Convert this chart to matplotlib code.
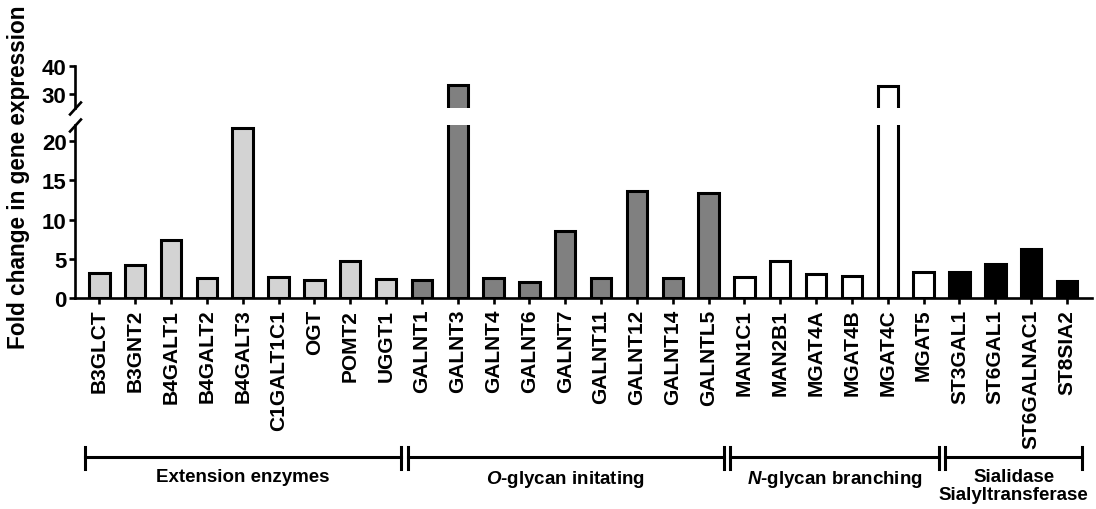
import numpy as np
import matplotlib.pyplot as plt
from matplotlib.transforms import blended_transform_factory

plt.rcParams['font.family'] = ['Liberation Sans', 'DejaVu Sans']
plt.rcParams['font.weight'] = 'bold'
plt.rcParams['mathtext.fontset'] = 'custom'
plt.rcParams['mathtext.it'] = 'Liberation Sans:italic:bold'
plt.rcParams['mathtext.rm'] = 'Liberation Sans:bold'

# fold change per gene, one list per enzyme group
ext_genes = ['B3GLCT', 'B3GNT2', 'B4GALT1', 'B4GALT2', 'B4GALT3', 'C1GALT1C1', 'OGT', 'POMT2', 'UGGT1']
ext_fold = [3.2, 4.2, 7.4, 2.6, 21.6, 2.7, 2.3, 4.7, 2.5]

oglyc_genes = ['GALNT1', 'GALNT3', 'GALNT4', 'GALNT6', 'GALNT7', 'GALNT11', 'GALNT12', 'GALNT14', 'GALNTL5']
oglyc_fold = [2.3, 33.2, 2.6, 2.1, 8.6, 2.6, 13.6, 2.6, 13.4]

nglyc_genes = ['MAN1C1', 'MAN2B1', 'MGAT4A', 'MGAT4B', 'MGAT4C', 'MGAT5']
nglyc_fold = [2.7, 4.7, 3.1, 2.8, 32.9, 3.3]

sial_genes = ['ST3GAL1', 'ST6GAL1', 'ST6GALNAC1', 'ST8SIA2']
sial_fold = [3.4, 4.3, 6.3, 2.2]

group_names = ['Extension enzymes', r'$\mathit{O}$-glycan initating',
               r'$\mathit{N}$-glycan branching', 'Sialidase\nSialyltransferase']
group_colors = ['#d3d3d3', '#808080', 'white', 'black']

groups = [(ext_genes, ext_fold), (oglyc_genes, oglyc_fold),
          (nglyc_genes, nglyc_fold), (sial_genes, sial_fold)]

genes, fold, colors, spans = [], [], [], []
for (g, v), c in zip(groups, group_colors):
    spans.append((len(genes), len(genes) + len(g) - 1))
    genes += g
    fold += v
    colors += [c] * len(g)
x = np.arange(len(genes))

fig = plt.figure(figsize=(10.96, 5.10), dpi=100)
ax_lo = fig.add_axes([0.0684, 0.4131, 0.9280, 0.3398])
ax_hi = fig.add_axes([0.0684, 0.7859, 0.9280, 0.0833], sharex=ax_lo)

lw = 1.9
for ax in (ax_lo, ax_hi):
    ax.bar(x, fold, width=0.57, color=colors, edgecolor='black', linewidth=2.2, zorder=3)
    for side in ('top', 'right'):
        ax.spines[side].set_visible(False)
    for side in ('left', 'bottom'):
        ax.spines[side].set_linewidth(lw)
    ax.tick_params(width=lw, length=4.5, labelsize=16)
    ax.tick_params(axis='y', pad=1.5)

ax_lo.set_ylim(0, 22)
ax_hi.set_ylim(25, 40)
ax_lo.set_yticks([0, 5, 10, 15, 20])
ax_hi.set_yticks([30, 40])
ax_lo.set_xlim(-0.68, 27.7)

ax_hi.spines['bottom'].set_visible(False)
ax_hi.tick_params(axis='x', bottom=False, labelbottom=False)

ax_lo.set_xticks(x)
ax_lo.set_xticklabels(genes, rotation=90, fontsize=15, fontweight='bold')
ax_lo.tick_params(axis='x', pad=3)

for lab in ax_lo.get_yticklabels() + ax_hi.get_yticklabels():
    lab.set_fontweight('bold')

# diagonal break marks on the y axis
slash = dict(marker=[(-1, -1.1), (1, 1.1)], markersize=10, linestyle='none',
             color='k', mec='k', mew=lw, clip_on=False)
ax_hi.plot([0], [0], transform=ax_hi.transAxes, **slash)
ax_lo.plot([0], [1], transform=ax_lo.transAxes, **slash)

fig.text(0.0165, 0.652, 'Fold change in gene expression', rotation=90,
         ha='center', va='center', fontsize=16.3, fontweight='bold')

# group brackets under the gene names
tr = blended_transform_factory(ax_lo.transData, fig.transFigure)
y_line, y_lo, y_hi = 0.102, 0.0784, 0.1216
for (a, b), name in zip(spans, group_names):
    x0, x1 = a - 0.40, b + 0.42
    ax_lo.plot([x0, x1], [y_line, y_line], color='k', lw=2.2, transform=tr, clip_on=False)
    for xe in (x0, x1):
        ax_lo.plot([xe, xe], [y_lo, y_hi], color='k', lw=2.2, transform=tr, clip_on=False)
    ax_lo.text((x0 + x1) / 2, 0.081, name, transform=tr, ha='center', va='top',
               fontsize=13.5, fontweight='bold', linespacing=1.1)

fig.savefig('out.png', dpi=100)
